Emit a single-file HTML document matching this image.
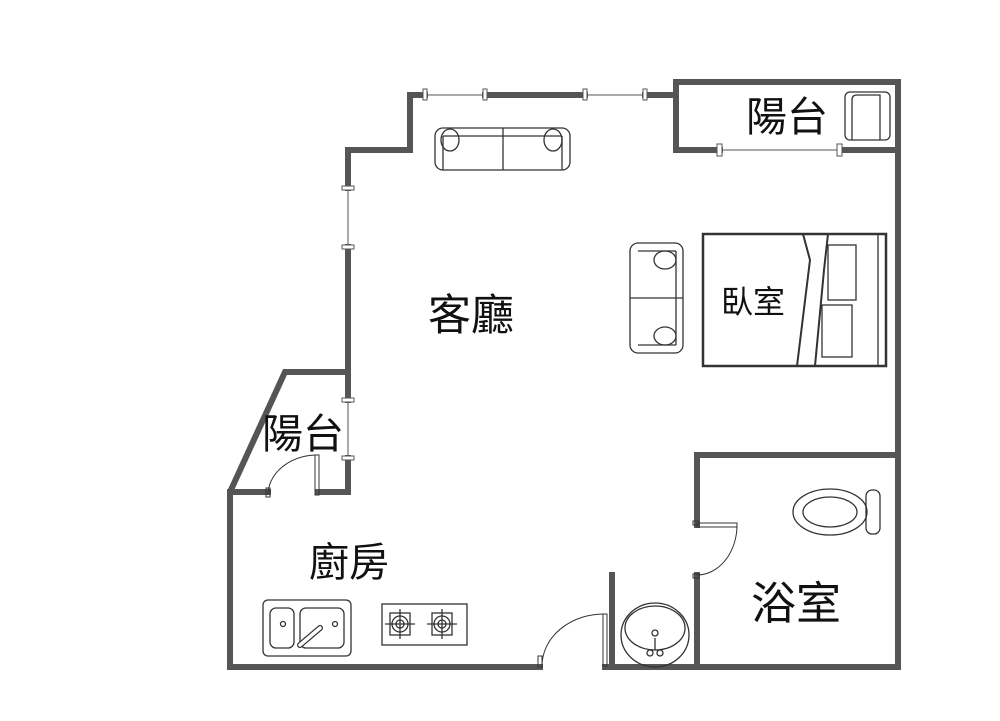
<!DOCTYPE html>
<html><head><meta charset="utf-8"><style>
html,body{margin:0;padding:0;background:#fff;}
svg{display:block;}
text{font-family:"Liberation Sans","Noto Sans CJK TC",sans-serif;fill:#111;}
</style></head><body>
<svg width="1000" height="721" viewBox="0 0 1000 721" xmlns="http://www.w3.org/2000/svg">
<g stroke="#555" stroke-width="6" fill="none" stroke-linecap="square">
<polyline points="348,188 348,150 410,150 410,95 425,95"/>
<line x1="485" y1="95" x2="585" y2="95"/>
<line x1="645" y1="95" x2="676" y2="95"/>
<line x1="348" y1="247" x2="348" y2="400"/>
<line x1="348" y1="458" x2="348" y2="492"/>
<polyline points="720,150 676,150 676,82 898,82 898,455"/>
<line x1="840" y1="150" x2="898" y2="150"/>
<polyline points="697,525 697,455 898,455 898,667"/>
<line x1="697" y1="575" x2="697" y2="667"/>
<line x1="612" y1="575" x2="612" y2="667"/>
<line x1="230" y1="667" x2="540" y2="667"/>
<line x1="605" y1="667" x2="898" y2="667"/>
<polyline points="230,667 230,492 285,372 348,372"/>
<line x1="230" y1="492" x2="268" y2="492"/>
<line x1="318" y1="492" x2="348" y2="492"/>
</g>
<g stroke="#555" stroke-width="1" fill="#fff">
<line x1="425" y1="95" x2="485" y2="95"/><line x1="585" y1="95" x2="645" y2="95"/>
<line x1="720" y1="150" x2="840" y2="150"/>
<line x1="348" y1="188" x2="348" y2="247"/><line x1="348" y1="400" x2="348" y2="458"/>
<rect x="423" y="89" width="4" height="11"/><rect x="483" y="89" width="4" height="11"/>
<rect x="583" y="89" width="4" height="11"/><rect x="643" y="89" width="4" height="11"/>
<rect x="717" y="144" width="5" height="12"/><rect x="837" y="144" width="5" height="12"/>
<rect x="342" y="186" width="12" height="4"/><rect x="342" y="245" width="12" height="4"/>
<rect x="342" y="398" width="12" height="4"/><rect x="342" y="456" width="12" height="4"/>
</g>
<g stroke="#333" stroke-width="1" fill="none">
<rect x="315" y="455" width="4" height="40"/><path d="M315,455 A50,40 0 0 0 268,495"/><rect x="266" y="488" width="4" height="9"/>
<rect x="603" y="614" width="4" height="52"/><path d="M605,614 A62,52 0 0 0 542,666"/><rect x="538" y="656" width="4" height="11"/>
<rect x="697" y="523" width="40" height="4"/><path d="M737,525 A40,50 0 0 1 697,575"/><rect x="693" y="521" width="6" height="4"/><rect x="693" y="574" width="6" height="4"/>
</g>
<g stroke="#333" stroke-width="1.3" fill="none">
<rect x="435" y="128" width="135" height="42" rx="8"/><line x1="503" y1="128" x2="503" y2="170"/>
<line x1="443" y1="136" x2="562" y2="136"/><line x1="443" y1="136" x2="443" y2="170"/><line x1="562" y1="136" x2="562" y2="170"/>
<ellipse cx="450" cy="140" rx="9" ry="11"/><ellipse cx="553" cy="140" rx="9" ry="11"/>
<rect x="630" y="243" width="53" height="110" rx="8"/><line x1="630" y1="298" x2="683" y2="298"/>
<line x1="638" y1="251" x2="676" y2="251"/><line x1="676" y1="251" x2="676" y2="345"/><line x1="638" y1="345" x2="676" y2="345"/>
<ellipse cx="665" cy="260" rx="11" ry="9"/><ellipse cx="665" cy="336" rx="11" ry="9"/>
<rect x="703" y="234" width="183" height="132" stroke-width="2.5"/>
<line x1="878" y1="234" x2="878" y2="366"/>
<path d="M803,234 L810,260 L797,366" stroke-width="2"/><path d="M828,234 L824,270 L815,366" stroke-width="2"/>
<rect x="828" y="245" width="28" height="55"/><rect x="822" y="305" width="30" height="52"/>
<rect x="845" y="92" width="45" height="48" rx="5"/><path d="M852,140 L852,100 Q852,95 857,95 L880,95 L880,140"/>
<ellipse cx="830" cy="512" rx="37" ry="23"/><ellipse cx="830" cy="512" rx="27" ry="15"/><rect x="866" y="490" width="14" height="44" rx="6"/>
<ellipse cx="655" cy="635" rx="34" ry="32"/><ellipse cx="655" cy="628" rx="30" ry="22"/><circle cx="655" cy="633" r="3"/><line x1="655" y1="638" x2="655" y2="650"/><circle cx="650" cy="653" r="3"/><circle cx="660" cy="653" r="3"/>
<rect x="263" y="600" width="88" height="56" rx="5"/><rect x="270" y="608" width="24" height="40" rx="6"/><rect x="300" y="608" width="44" height="40" rx="6"/>
<circle cx="283" cy="624" r="2.5"/><circle cx="335" cy="624" r="2.5"/>
<path d="M300,645 L320,628" stroke-width="6" stroke-linecap="round"/><path d="M300,645 L320,628" stroke-width="3.5" stroke="#fff" stroke-linecap="round"/>
<rect x="382" y="604" width="85" height="41"/>
<rect x="390" y="613" width="20" height="22"/><circle cx="400" cy="624" r="8"/><circle cx="400" cy="624" r="4"/><line x1="385" y1="624" x2="415" y2="624"/><line x1="400" y1="609" x2="400" y2="639"/>
<rect x="432" y="613" width="20" height="22"/><circle cx="442" cy="624" r="8"/><circle cx="442" cy="624" r="4"/><line x1="427" y1="624" x2="457" y2="624"/><line x1="442" y1="609" x2="442" y2="639"/>
</g>
<text x="746" y="131" font-size="41">陽台</text>
<text x="428" y="330" font-size="43">客廳</text>
<text x="721" y="313" font-size="32">臥室</text>
<text x="262" y="448" font-size="41">陽台</text>
<text x="309" y="576" font-size="40">廚房</text>
<text x="751" y="619" font-size="45">浴室</text>
</svg>
</body></html>
